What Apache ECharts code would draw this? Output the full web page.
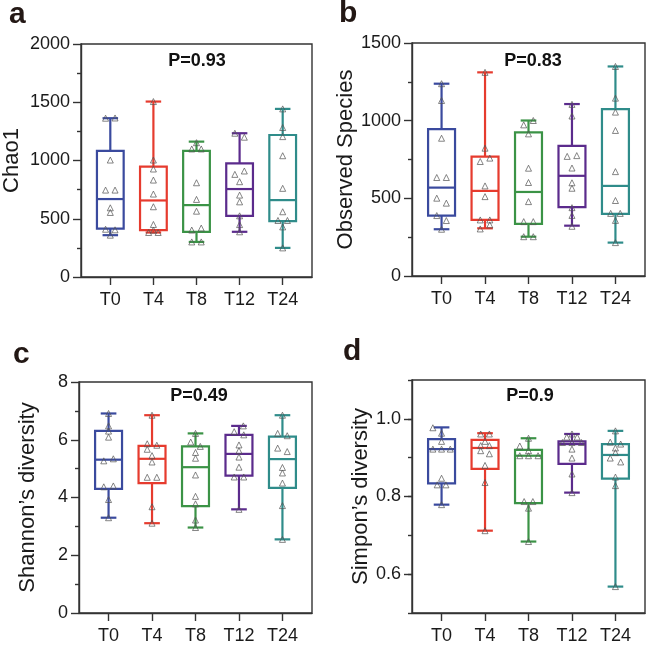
<!DOCTYPE html>
<html>
<head>
<meta charset="utf-8">
<title>alpha diversity</title>
<script src="https://cdn.jsdelivr.net/npm/echarts@6/dist/echarts.min.js"></script>
<style>
html, body {margin:0; padding:0; background:#fff;}
#main {width:647px; height:645px;}
</style>
</head>
<body>
<div id="main"></div>
<script>
var groups = ['T0', 'T4', 'T8', 'T12', 'T24'];
var groupColors = ['#3a4a9e', '#e63b2e', '#3b9346', '#5b2b8c', '#2f8c8a'];

// box stats per group: [min, Q1, median, Q3, max]
var chaoBox = [[359, 416, 669, 1082, 1363], [382, 402, 657, 947, 1506], [301, 388, 617, 1082, 1162], [388, 525, 755, 976, 1234], [250, 479, 660, 1219, 1443]];
var chaoPts = [
    [1363, 1365, 1004, 746, 746, 594, 554, 410, 405, 359],
    [1506, 1004, 927, 832, 712, 603, 451, 402, 382, 382],
    [1153, 1099, 1099, 809, 666, 565, 403, 420, 301, 301],
    [1234, 1200, 910, 881, 818, 703, 645, 525, 450, 388],
    [1443, 1283, 1205, 1041, 761, 560, 485, 485, 430, 250]
];
var chaoJit = [
    [-0.11, 0.11, 0, -0.11, 0.11, 0, 0, -0.11, 0.11, 0],
    [0, 0, 0, 0, 0, 0, 0, 0, -0.11, 0.11],
    [0, -0.11, 0.11, 0, 0, 0, -0.11, 0.11, -0.11, 0.11],
    [-0.11, 0.11, 0.11, -0.11, 0, 0, 0, 0, 0, 0],
    [0, 0, 0, 0, 0, 0, -0.11, 0.11, 0, 0]
];

var obsBox = [[301, 389, 569, 946, 1238], [307, 361, 548, 769, 1311], [253, 335, 541, 924, 1001], [324, 443, 645, 838, 1107], [215, 400, 580, 1074, 1349]];
var obsPts = [
    [1238, 1130, 887, 634, 634, 501, 469, 389, 357, 301],
    [1311, 823, 759, 737, 580, 511, 361, 361, 329, 303],
    [1001, 973, 915, 694, 602, 479, 350, 350, 253, 253],
    [1105, 1030, 775, 770, 695, 600, 565, 440, 390, 320],
    [1349, 1145, 1055, 937, 672, 486, 403, 403, 358, 215]
];
var obsJit = [
    [0, 0, 0, -0.11, 0.11, -0.11, 0.11, -0.11, 0.11, 0],
    [0, 0, 0.11, -0.11, 0, 0, -0.11, 0.11, 0.11, -0.11],
    [0.11, -0.11, 0, 0, 0, 0, -0.11, 0.11, -0.11, 0.11],
    [0, 0, 0.11, -0.11, 0, 0, 0, 0, 0, 0],
    [0, 0, 0, 0, 0, 0, -0.11, 0.11, 0, 0]
];

var shanBox = [[3.30, 4.30, 5.31, 6.31, 6.91], [3.11, 4.50, 5.34, 5.79, 6.85], [2.96, 3.70, 5.05, 5.77, 6.22], [3.59, 4.76, 5.51, 6.17, 6.48], [2.55, 4.33, 5.33, 6.11, 6.85]];
var shanPts = [
    [6.91, 6.48, 6.30, 6.09, 5.27, 5.34, 4.37, 4.40, 3.93, 3.30],
    [6.85, 5.86, 5.81, 5.67, 5.45, 5.23, 4.70, 4.70, 3.68, 3.11],
    [6.22, 5.92, 5.77, 5.56, 5.36, 4.78, 4.04, 3.78, 3.22, 2.96],
    [6.48, 6.28, 6.17, 5.82, 5.62, 5.40, 5.05, 4.71, 4.71, 3.59],
    [6.85, 6.22, 6.14, 5.71, 5.59, 5.04, 4.85, 4.50, 3.72, 2.55]
];
var shanJit = [
    [0, 0, 0, 0, -0.11, 0.11, -0.11, 0.11, 0, 0],
    [0, -0.11, 0.11, -0.11, 0, 0, -0.11, 0.11, 0, 0],
    [0, -0.11, 0.11, 0, 0, 0, 0, 0, 0, 0],
    [0.1, -0.11, 0.11, 0, 0, 0, 0, -0.11, 0.11, 0],
    [0, -0.11, 0.11, -0.11, 0.11, 0, 0, 0, 0, 0]
];

var simpBox = [[0.779, 0.834, 0.922, 0.948, 0.978], [0.712, 0.871, 0.925, 0.946, 0.963], [0.684, 0.783, 0.905, 0.920, 0.950], [0.810, 0.884, 0.935, 0.942, 0.961], [0.568, 0.846, 0.907, 0.935, 0.969]];
var simpPts = [
    [0.977, 0.963, 0.942, 0.922, 0.922, 0.922, 0.847, 0.830, 0.830, 0.779],
    [0.961, 0.961, 0.942, 0.931, 0.931, 0.918, 0.910, 0.880, 0.836, 0.712],
    [0.950, 0.930, 0.918, 0.905, 0.905, 0.905, 0.787, 0.787, 0.770, 0.684],
    [0.961, 0.953, 0.953, 0.939, 0.939, 0.939, 0.922, 0.899, 0.858, 0.810],
    [0.969, 0.940, 0.935, 0.925, 0.913, 0.899, 0.889, 0.850, 0.828, 0.568]
];
var simpJit = [
    [-0.2, 0, 0, -0.2, 0, 0.2, 0, -0.1, 0.1, 0],
    [-0.1, 0.1, 0, -0.1, 0.1, -0.1, 0.1, 0, 0, 0],
    [0, -0.2, 0, -0.2, 0, 0.22, -0.1, 0.1, 0, 0],
    [0, -0.12, 0.12, -0.22, 0, 0.22, 0, 0, 0, 0],
    [0, -0.12, 0.12, 0, 0, -0.12, 0.12, 0, 0, 0]
];

var pValues = ['P=0.93', 'P=0.83', 'P=0.49', 'P=0.9'];
var yNames = ['Chao1', 'Observed Species', 'Shannon\u2019s diversity', 'Simpon\u2019s diversity'];

var FONT = 'Liberation Sans, Arial, Helvetica, sans-serif';
var AXIS_COLOR = '#333';
var boxW = 0.62, capW = 0.36;

function boxData(box) {
    return box.map(function (b, i) { return [i].concat(b); });
}
function pointData(pts, jit) {
    var out = [];
    pts.forEach(function (vals, g) {
        vals.forEach(function (v, k) { out.push([g + jit[g][k], v]); });
    });
    return out;
}

function renderBox(params, api) {
    var x = api.value(0);
    var lo = api.coord([x, api.value(1)]);
    var q1 = api.coord([x, api.value(2)]);
    var md = api.coord([x, api.value(3)]);
    var q3 = api.coord([x, api.value(4)]);
    var hi = api.coord([x, api.value(5)]);
    var half = api.size([boxW, 0])[0] / 2;
    var cap = api.size([capW, 0])[0] / 2;
    var color = groupColors[params.dataIndex];
    var st = {stroke: color, lineWidth: 2.2};
    return {
        type: 'group',
        children: [
            {type: 'line', shape: {x1: lo[0], y1: lo[1], x2: lo[0], y2: q1[1]}, style: st},
            {type: 'line', shape: {x1: hi[0], y1: hi[1], x2: hi[0], y2: q3[1]}, style: st},
            {type: 'line', shape: {x1: lo[0] - cap, y1: lo[1], x2: lo[0] + cap, y2: lo[1]}, style: st},
            {type: 'line', shape: {x1: hi[0] - cap, y1: hi[1], x2: hi[0] + cap, y2: hi[1]}, style: st},
            {type: 'rect', shape: {x: q3[0] - half, y: q3[1], width: half * 2, height: q1[1] - q3[1]},
                style: {stroke: color, lineWidth: 2.2, fill: '#fff'}},
            {type: 'line', shape: {x1: md[0] - half, y1: md[1], x2: md[0] + half, y2: md[1]}, style: st}
        ]
    };
}

var grids = [
    {left: 79, top: 44, width: 233, height: 233},
    {left: 412, top: 43, width: 233, height: 233},
    {left: 79, top: 382, width: 233, height: 232},
    {left: 412, top: 380, width: 233, height: 233}
];
grids.forEach(function (g) {
    g.show = true; g.borderColor = AXIS_COLOR; g.borderWidth = 1.4; g.backgroundColor = 'transparent';
});

var lineStyle = {color: AXIS_COLOR, width: 1.4};
var idx = groups.map(function (g, i) { return i; });
var xAxes = grids.map(function (g, i) {
    return {
        gridIndex: i, type: 'value', min: -0.68, max: 4.68,
        splitLine: {show: false},
        axisLine: {onZero: false, lineStyle: lineStyle},
        axisTick: {customValues: idx, length: 8, lineStyle: lineStyle},
        axisLabel: {customValues: idx, fontSize: 18, fontFamily: FONT, color: '#1a1a1a', margin: 14,
            formatter: function (v) { return groups[Math.round(v)]; }}
    };
});

function yAxis(i, max, interval, nameGap) {
    return {
        gridIndex: i, type: 'value', min: 0, max: max, interval: interval,
        name: yNames[i], nameLocation: 'middle', nameGap: nameGap,
        nameTextStyle: {fontSize: 22, fontFamily: FONT, color: '#1a1a1a'},
        splitLine: {show: false},
        axisLine: {show: true, onZero: false, lineStyle: lineStyle},
        axisTick: {length: 8, lineStyle: lineStyle},
        minorTick: {show: true, splitNumber: 2, length: 4, lineStyle: lineStyle},
        axisLabel: {fontSize: 18, fontFamily: FONT, color: '#1a1a1a', margin: 11,
            formatter: function (v) { return String(v); }}
    };
}
var simpMajor = [0.6, 0.8, 1.0];
var yAxes = [
    yAxis(0, 2000, 500, 58),
    yAxis(1, 1500, 500, 53),
    yAxis(2, 8, 2, 40),
    {
        gridIndex: 3, type: 'value', min: 0.5, max: 1.1, interval: 0.1,
        splitLine: {show: false},
        axisLine: {show: true, onZero: false, lineStyle: lineStyle},
        axisTick: {length: 4, lineStyle: lineStyle},
        axisLabel: {show: false}
    },
    {
        gridIndex: 3, type: 'value', min: 0.5, max: 1.1, position: 'left',
        name: yNames[3], nameLocation: 'middle', nameGap: 40,
        nameTextStyle: {fontSize: 22, fontFamily: FONT, color: '#1a1a1a'},
        splitLine: {show: false},
        axisLine: {show: false, onZero: false},
        axisTick: {customValues: simpMajor, length: 8, lineStyle: lineStyle},
        axisLabel: {customValues: simpMajor, fontSize: 18, fontFamily: FONT, color: '#1a1a1a', margin: 11,
            formatter: function (v) { return v.toFixed(1); }}
    }
];

var panels = [[chaoBox, chaoPts, chaoJit], [obsBox, obsPts, obsJit], [shanBox, shanPts, shanJit], [simpBox, simpPts, simpJit]];
var series = [];
panels.forEach(function (p, i) {
    series.push({
        type: 'custom', xAxisIndex: i, yAxisIndex: i, renderItem: renderBox,
        encode: {x: 0, y: [1, 2, 3, 4, 5]}, data: boxData(p[0]), z: 2
    });
    series.push({
        type: 'scatter', xAxisIndex: i, yAxisIndex: i, symbol: 'triangle', symbolSize: 6,
        itemStyle: {color: 'rgba(255,255,255,0)', borderColor: '#555', borderWidth: 0.9},
        data: pointData(p[1], p[2]), z: 3
    });
});

var letterStyle = {fontSize: 30, fontWeight: 'bold', color: '#231815', fontFamily: FONT};
var pStyle = {fontSize: 18, fontWeight: 'bold', color: '#111', fontFamily: FONT};
var titles = [
    {text: 'a', left: 4, top: -5, textStyle: letterStyle},
    {text: 'b', left: 334, top: -6, textStyle: letterStyle},
    {text: 'c', left: 8, top: 335, textStyle: letterStyle},
    {text: 'd', left: 338, top: 332, textStyle: letterStyle}
];
var pPos = [[192, 47], [528, 47], [194, 382], [525, 382]];
pValues.forEach(function (t, i) {
    titles.push({text: t, left: pPos[i][0], top: pPos[i][1], textAlign: 'center', textStyle: pStyle});
});

var chart = echarts.init(document.getElementById('main'));
chart.setOption({
    animation: false,
    backgroundColor: '#fff',
    title: titles,
    grid: grids,
    xAxis: xAxes,
    yAxis: yAxes,
    series: series
});
</script>
</body>
</html>
